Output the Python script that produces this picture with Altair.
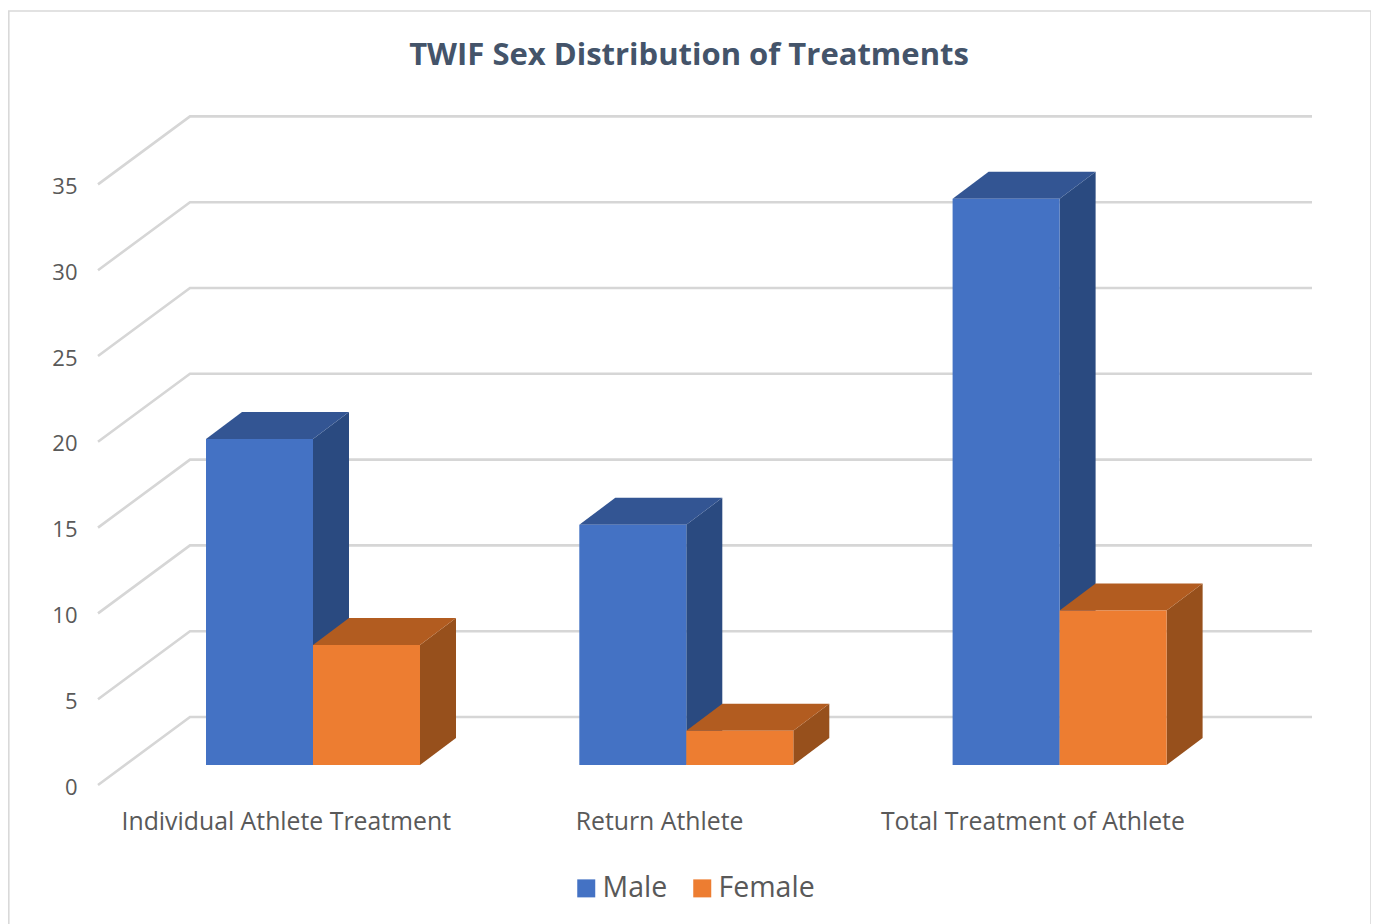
import altair as alt
import pandas as pd

categories = ["Individual Athlete Treatment", "Return Athlete", "Total Treatment of Athlete"]
male = [19, 14, 33]
female = [7, 2, 9]
series_names = ["Male", "Female"]
y_ticks = [0, 5, 10, 15, 20, 25, 30, 35]

FONT = "Open Sans"
TEXT = "#595959"

# projection of the pseudo-3D box, in data units
PX_Y = 17.16
PX_X = 373.3
H, W = 669, 1214
WALL_DX, WALL_DY = 92 / PX_X, 68 / PX_Y
BAR_X0, BAR_W = 108 / PX_X, 107 / PX_X
BAR_DX, BAR_DY = 36 / PX_X, 27 / PX_Y
BASE = 20 / PX_Y
X_MAX, Y_MAX = W / PX_X, H / PX_Y

grid_rows = []
for t in y_ticks:
    grid_rows += [
        {"tick": t, "o": 0, "gx": 0, "gy": t},
        {"tick": t, "o": 1, "gx": WALL_DX, "gy": t + WALL_DY},
        {"tick": t, "o": 2, "gx": X_MAX, "gy": t + WALL_DY},
    ]
grid_df = pd.DataFrame(grid_rows)

front, side, top = [], [], []
for s, (name, vals) in enumerate(zip(series_names, [male, female])):
    for i, (cat, v) in enumerate(zip(categories, vals)):
        x0 = i + BAR_X0 + s * BAR_W
        x1 = x0 + BAR_W
        yb, yt = BASE, BASE + v
        front.append(dict(series=name, cat=cat, x0=x0, x1=x1, y0=yb, y1=yt))
        side += [
            dict(series=name, cat=cat, x=x1, lo=yb, hi=yt),
            dict(series=name, cat=cat, x=x1 + BAR_DX, lo=yb + BAR_DY, hi=yt + BAR_DY),
        ]
        top += [
            dict(series=name, cat=cat, x=x0, lo=yt, hi=yt),
            dict(series=name, cat=cat, x=x0 + BAR_DX, lo=yt, hi=yt + BAR_DY),
            dict(series=name, cat=cat, x=x1, lo=yt, hi=yt + BAR_DY),
            dict(series=name, cat=cat, x=x1 + BAR_DX, lo=yt + BAR_DY, hi=yt + BAR_DY),
        ]
front_df, side_df, top_df = pd.DataFrame(front), pd.DataFrame(side), pd.DataFrame(top)

xs = alt.Scale(domain=[0, X_MAX], nice=False, zero=False)
ys = alt.Scale(domain=[0, Y_MAX], nice=False, zero=False)
cats_js = "[" + ",".join(f"'{c}'" for c in categories) + "]"

grid = alt.Chart(grid_df).mark_line(color="#d6d6d6", strokeWidth=2.6, clip=False).encode(
    x=alt.X("gx:Q", scale=xs, title=None, axis=alt.Axis(
        values=[i + 0.503 for i in range(3)],
        labelExpr=f"{cats_js}[floor(datum.value)]",
        domain=False, ticks=False, grid=False, labelFont=FONT, labelFontSize=24.8,
        labelColor=TEXT, labelPadding=37, labelBaseline="middle", labelAngle=0, labelLimit=600,
        labelOverlap=False, labelFlush=False, labelBound=False)),
    y=alt.Y("gy:Q", scale=ys, title=None, axis=alt.Axis(
        values=y_ticks, domain=False, ticks=False, grid=False, labelFont=FONT,
        labelFontSize=22, labelColor=TEXT, labelPadding=21, labelBaseline="middle", labelOffset=2,
        labelOverlap=False, labelBound=False, labelFlush=False)),
    detail="tick:N",
    order="o:Q",
)


def face_side(name, colour):
    return alt.Chart(side_df[side_df.series == name]).mark_area(color=colour).encode(
        x=alt.X("x:Q", scale=xs), y=alt.Y("lo:Q", scale=ys), y2="hi:Q", detail="cat:N")


def face_top(name, colour):
    return alt.Chart(top_df[top_df.series == name]).mark_area(color=colour).encode(
        x=alt.X("x:Q", scale=xs), y=alt.Y("lo:Q", scale=ys), y2="hi:Q", detail="cat:N")


def face_front(name):
    return alt.Chart(front_df[front_df.series == name]).mark_bar().encode(
        x=alt.X("x0:Q", scale=xs), x2="x1:Q",
        y=alt.Y("y0:Q", scale=ys), y2="y1:Q",
        color=alt.Color("series:N", title=None,
                        scale=alt.Scale(domain=series_names, range=["#4472c4", "#ed7d31"]),
                        legend=alt.Legend(orient="none", legendX=474, legendY=758, direction="horizontal",
                                          columns=2, columnPadding=20, symbolType="square", symbolSize=324,
                                          symbolStrokeWidth=0, labelFont=FONT, labelFontSize=28.5,
                                          labelColor=TEXT, labelOffset=2, padding=0)),
    )


def border(**kw):
    return alt.Chart(pd.DataFrame({"b": [0]})).mark_rule(color="#d9d9d9", strokeWidth=1.6, clip=False).encode(**kw)


chart = alt.layer(
    grid,
    face_side("Male", "#2a4a80"), face_top("Male", "#335593"), face_front("Male"),
    face_side("Female", "#97501c"), face_top("Female", "#b25c20"), face_front("Female"),
    border(x=alt.value(-89.2), x2=alt.value(-89.2), y=alt.value(-105), y2=alt.value(810)),
    border(x=alt.value(1273), x2=alt.value(1273), y=alt.value(-105), y2=alt.value(810)),
    border(x=alt.value(-90), x2=alt.value(1274), y=alt.value(-105), y2=alt.value(-105)),
).properties(
    width=W, height=H,
    title=alt.Title("TWIF Sex Distribution of Treatments", fontSize=31, fontWeight="bold", font=FONT,
                    color="#44546a", anchor="middle", dx=-16, dy=62, offset=0),
    autosize=alt.AutoSizeParams(type="none"),
    padding={"left": 90, "top": 108, "right": 59, "bottom": 139},
    background="white",
).configure_view(stroke=None)

chart.save("out.html", embed_options={"renderer": "svg", "actions": False})
